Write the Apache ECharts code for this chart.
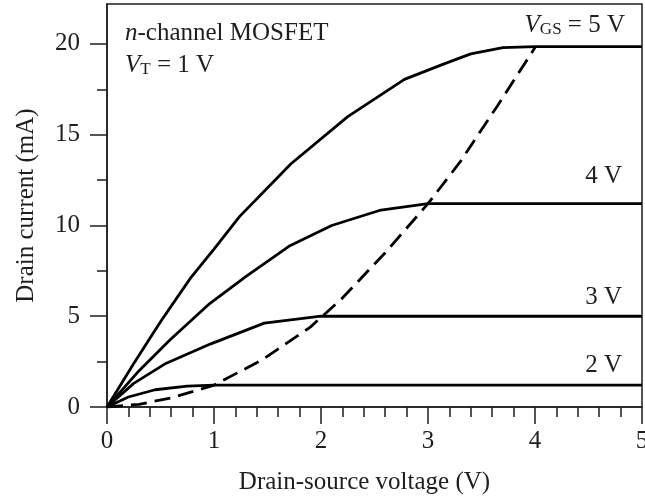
<!DOCTYPE html>
<html>
<head>
<meta charset="utf-8">
<script src="https://cdn.jsdelivr.net/npm/echarts@6/dist/echarts.min.js"></script>
<style>
  html, body { margin: 0; padding: 0; background: #fff; }
  #chart { width: 645px; height: 499px; }
</style>
</head>
<body>
<div id="chart"></div>
<script>
// drain current (mA) vs drain-source voltage (V)
const vgs5 = [[0, 0], [0.25, 2.4], [0.5, 4.7], [0.78, 7.1], [1.0, 8.7], [1.24, 10.5], [1.72, 13.4],
  [2.25, 16.0], [2.78, 18.05], [3.15, 18.9], [3.4, 19.45], [3.7, 19.8], [4.0, 19.85], [5, 19.85]];
const vgs4 = [[0, 0], [0.3, 2.0], [0.59, 3.7], [0.96, 5.7], [1.3, 7.2], [1.7, 8.85], [2.1, 10.0],
  [2.56, 10.85], [3.0, 11.2], [5, 11.2]];
const vgs3 = [[0, 0], [0.25, 1.3], [0.55, 2.4], [0.97, 3.48], [1.47, 4.62], [2.0, 5.0], [5, 5.0]];
const vgs2 = [[0, 0], [0.2, 0.55], [0.45, 0.95], [0.75, 1.15], [1.0, 1.2], [5, 1.2]];
// boundary of saturation (dashed)
const satEdge = [[0, 0], [0.3, 0.15], [0.6, 0.5], [1.0, 1.2], [1.45, 2.6], [1.9, 4.4], [2.2, 6.0],
  [2.6, 8.5], [3.0, 11.2], [3.3, 13.5], [3.65, 16.6], [4.0, 19.8]];

const yMajorTicks = [0, 5, 10, 15, 20];
const yMinorTicks = [2.5, 7.5, 12.5, 17.5];
const xTicks = [0, 1, 2, 3, 4, 5];

const serif = 'Liberation Serif';
const ink = '#1e1e1e';

const chart = echarts.init(document.getElementById('chart'));

function curve(data, dashed) {
  return {
    type: 'line',
    data: data,
    symbol: 'none',
    silent: true,
    lineStyle: { color: '#000', width: 2.8, type: dashed ? [16, 8] : 'solid' }
  };
}

const axisLine = { show: true, lineStyle: { color: ink, width: 1.5 } };

chart.setOption({
  animation: false,
  backgroundColor: '#fff',
  grid: {
    left: 107, right: 3, top: 4, bottom: 92,
    outerBoundsMode: 'none',
    show: true, borderColor: ink, borderWidth: 1.5
  },
  xAxis: {
    type: 'value',
    min: 0, max: 5, interval: 1,
    name: 'Drain-source voltage (V)',
    nameLocation: 'middle',
    nameGap: 63,
    nameTextStyle: { fontFamily: serif, fontSize: 25, color: ink, padding: [0, 20, 0, 0] },
    axisLine: axisLine,
    axisTick: { show: true, length: 17, customValues: xTicks, lineStyle: { color: ink, width: 1.5 } },
    minorTick: { show: true, splitNumber: 5, length: 10, lineStyle: { color: ink, width: 1.5 } },
    axisLabel: { customValues: xTicks, margin: 22, fontFamily: serif, fontSize: 25, color: ink },
    splitLine: { show: false },
    minorSplitLine: { show: false }
  },
  yAxis: [
    {
      type: 'value',
      min: 0, max: 22.2,
      position: 'left', offset: 0,
      name: 'Drain current (mA)',
      nameLocation: 'middle',
      nameGap: 68,
      nameTextStyle: { fontFamily: serif, fontSize: 25, color: ink },
      axisLine: axisLine,
      axisTick: { show: true, length: 17, customValues: yMajorTicks, lineStyle: { color: ink, width: 1.5 } },
      axisLabel: { customValues: yMajorTicks, margin: 27, fontFamily: serif, fontSize: 25, color: ink },
      splitLine: { show: false }
    },
    {
      type: 'value',
      min: 0, max: 22.2,
      position: 'left', offset: 0,
      axisLine: { show: false },
      axisTick: { show: true, length: 10, customValues: yMinorTicks, lineStyle: { color: ink, width: 1.5 } },
      axisLabel: { show: false },
      splitLine: { show: false }
    }
  ],
  series: [
    curve(vgs5), curve(vgs4), curve(vgs3), curve(vgs2), curve(satEdge, true)
  ],
  graphic: [
    {
      type: 'text', left: 125, top: 21,
      style: {
        text: '{i|n}{r|-channel MOSFET}',
        rich: {
          i: { fontFamily: serif, fontSize: 25, fontStyle: 'italic', lineHeight: 26, verticalAlign: 'middle', fill: ink },
          r: { fontFamily: serif, fontSize: 25, lineHeight: 26, verticalAlign: 'middle', fill: ink }
        }
      }
    },
    {
      type: 'text', left: 125, top: 53,
      style: {
        text: '{i|V}{s|T}{r| = 1 V}',
        rich: {
          i: { fontFamily: serif, fontSize: 25, fontStyle: 'italic', lineHeight: 26, verticalAlign: 'middle', fill: ink },
          s: { fontFamily: serif, fontSize: 17, lineHeight: 12, verticalAlign: 'bottom', fill: ink },
          r: { fontFamily: serif, fontSize: 25, lineHeight: 26, verticalAlign: 'middle', fill: ink }
        }
      }
    },
    {
      type: 'text', right: 20, top: 13,
      style: {
        text: '{i|V}{s|GS}{r| = 5 V}',
        rich: {
          i: { fontFamily: serif, fontSize: 25, fontStyle: 'italic', lineHeight: 26, verticalAlign: 'middle', fill: ink },
          s: { fontFamily: serif, fontSize: 17, lineHeight: 12, verticalAlign: 'bottom', fill: ink },
          r: { fontFamily: serif, fontSize: 25, lineHeight: 26, verticalAlign: 'middle', fill: ink }
        }
      }
    },
    { type: 'text', right: 23, top: 164, style: { text: '4 V', fontFamily: serif, fontSize: 25, fill: ink } },
    { type: 'text', right: 23, top: 285, style: { text: '3 V', fontFamily: serif, fontSize: 25, fill: ink } },
    { type: 'text', right: 23, top: 353, style: { text: '2 V', fontFamily: serif, fontSize: 25, fill: ink } }
  ]
});
</script>
</body>
</html>
